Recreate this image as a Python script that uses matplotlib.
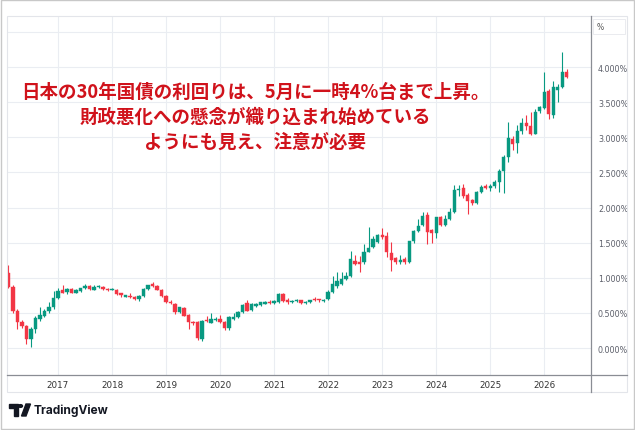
import numpy as np
import matplotlib
matplotlib.use('Agg')
import matplotlib.pyplot as plt
from matplotlib.lines import Line2D
from matplotlib.patches import Rectangle, Polygon, Circle

# monthly candles, Feb 2016 .. Jun 2026 (yield, %)
opens = [1.07, 0.87, 0.53, 0.37, 0.31, 0.13, 0.27, 0.42, 0.46, 0.52, 0.58, 0.71,
         0.82, 0.80, 0.84, 0.79, 0.81, 0.85, 0.88, 0.83, 0.87, 0.87, 0.84, 0.82,
         0.83, 0.78, 0.73, 0.74, 0.72, 0.70, 0.74, 0.84, 0.91, 0.88, 0.83, 0.74,
         0.66, 0.63, 0.51, 0.57, 0.47, 0.37, 0.37, 0.13, 0.40, 0.36, 0.40, 0.42,
         0.37, 0.28, 0.41, 0.44, 0.51, 0.64, 0.54, 0.60, 0.61, 0.63, 0.66, 0.64,
         0.65, 0.77, 0.69, 0.65, 0.67, 0.68, 0.64, 0.65, 0.69, 0.69, 0.67, 0.70,
         0.80, 0.88, 0.91, 0.98, 1.03, 1.24, 1.22, 1.22, 1.37, 1.44, 1.51, 1.61,
         1.59, 1.35, 1.28, 1.22, 1.27, 1.22, 1.52, 1.67, 1.75, 1.89, 1.68, 1.64,
         1.86, 1.75, 1.84, 1.94, 2.25, 2.28, 2.18, 2.10, 2.07, 2.22, 2.30, 2.28,
         2.30, 2.36, 2.52, 2.72, 2.98, 2.92, 3.09, 3.20, 3.16, 3.05, 3.37, 3.42,
         3.66, 3.32, 3.67, 3.72, 3.93]
highs = [1.18, 0.90, 0.56, 0.40, 0.33, 0.30, 0.46, 0.58, 0.55, 0.65, 0.81, 0.85,
         0.90, 0.86, 0.86, 0.84, 0.86, 0.91, 0.89, 0.89, 0.89, 0.88, 0.85, 0.86,
         0.84, 0.79, 0.76, 0.78, 0.74, 0.76, 0.85, 0.90, 0.94, 0.90, 0.84, 0.75,
         0.68, 0.64, 0.59, 0.58, 0.48, 0.38, 0.38, 0.40, 0.45, 0.50, 0.44, 0.47,
         0.38, 0.45, 0.50, 0.53, 0.63, 0.68, 0.64, 0.64, 0.66, 0.67, 0.68, 0.68,
         0.79, 0.78, 0.71, 0.69, 0.70, 0.69, 0.67, 0.69, 0.73, 0.70, 0.70, 0.82,
         1.03, 1.08, 1.08, 1.08, 1.38, 1.33, 1.31, 1.48, 1.72, 1.60, 1.62, 1.71,
         1.65, 1.51, 1.30, 1.33, 1.29, 1.53, 1.68, 1.84, 1.94, 1.94, 1.70, 1.86,
         1.88, 1.90, 2.00, 2.32, 2.32, 2.33, 2.20, 2.12, 2.24, 2.32, 2.34, 2.34,
         2.39, 2.55, 2.75, 3.22, 3.02, 3.18, 3.27, 3.32, 3.36, 3.40, 3.45, 3.93,
         3.68, 3.80, 3.76, 4.21, 3.97]
lows = [0.85, 0.50, 0.27, 0.28, 0.06, 0.02, 0.22, 0.38, 0.44, 0.50, 0.56, 0.70,
        0.78, 0.77, 0.78, 0.78, 0.80, 0.84, 0.83, 0.82, 0.86, 0.83, 0.81, 0.82,
        0.76, 0.73, 0.72, 0.71, 0.69, 0.67, 0.73, 0.83, 0.87, 0.82, 0.73, 0.64,
        0.62, 0.49, 0.50, 0.45, 0.27, 0.33, 0.12, 0.10, 0.37, 0.35, 0.38, 0.36,
        0.25, 0.25, 0.40, 0.43, 0.50, 0.52, 0.53, 0.59, 0.60, 0.62, 0.63, 0.63,
        0.64, 0.66, 0.63, 0.64, 0.66, 0.63, 0.63, 0.64, 0.67, 0.66, 0.66, 0.69,
        0.78, 0.86, 0.90, 0.97, 1.01, 1.18, 1.08, 1.20, 1.36, 1.42, 1.49, 1.55,
        1.30, 1.09, 1.20, 1.20, 1.20, 1.21, 1.50, 1.65, 1.73, 1.48, 1.49, 1.57,
        1.74, 1.73, 1.82, 1.92, 2.16, 2.14, 1.91, 2.03, 2.05, 2.20, 2.26, 2.23,
        2.28, 2.22, 2.20, 2.65, 2.82, 2.78, 3.05, 3.10, 3.03, 3.04, 3.35, 3.40,
        3.26, 3.28, 3.50, 3.70, 3.84]
closes = [0.87, 0.53, 0.37, 0.31, 0.13, 0.27, 0.43, 0.47, 0.53, 0.58, 0.71, 0.81,
          0.79, 0.84, 0.79, 0.82, 0.85, 0.88, 0.84, 0.87, 0.88, 0.84, 0.82, 0.83,
          0.77, 0.75, 0.75, 0.72, 0.70, 0.74, 0.84, 0.89, 0.88, 0.83, 0.74, 0.65,
          0.64, 0.51, 0.58, 0.46, 0.37, 0.35, 0.14, 0.38, 0.38, 0.41, 0.41, 0.37,
          0.28, 0.44, 0.44, 0.51, 0.61, 0.53, 0.63, 0.63, 0.65, 0.66, 0.64, 0.67,
          0.77, 0.67, 0.65, 0.67, 0.69, 0.64, 0.66, 0.68, 0.68, 0.68, 0.69, 0.80,
          0.91, 0.95, 0.98, 1.03, 1.27, 1.20, 1.20, 1.37, 1.43, 1.55, 1.61, 1.58,
          1.37, 1.25, 1.22, 1.26, 1.22, 1.52, 1.67, 1.74, 1.88, 1.65, 1.64, 1.86,
          1.75, 1.84, 1.94, 2.25, 2.27, 2.16, 2.09, 2.06, 2.22, 2.29, 2.28, 2.30,
          2.36, 2.52, 2.72, 2.99, 2.90, 3.09, 3.20, 3.16, 3.05, 3.36, 3.43, 3.64,
          3.33, 3.72, 3.72, 3.93, 3.86]

years = ['2017', '2018', '2019', '2020', '2021', '2022', '2023', '2024', '2025', '2026']
price_ticks = [0.0, 0.5, 1.0, 1.5, 2.0, 2.5, 3.0, 3.5, 4.0, 4.5]

title_lines = ['日本の30年国債の利回りは、5月に一時4%台まで上昇。',
               '財政悪化への懸念が織り込まれ始めている',
               'ようにも見え、注意が必要']

UP, DOWN = '#089981', '#f23645'
W, H = 635, 431


def fx(px):
    return px / W


def fy(py):
    return 1 - py / H


fig = plt.figure(figsize=(6.35, 4.31), dpi=100)
fig.patch.set_facecolor('white')

# chart axes: x 7..591 px, y 17..376 px
ax = fig.add_axes([fx(7), fy(376), fx(591) - fx(7), fy(17) - fy(376)])
n = len(closes)
x = np.arange(n)
o = np.array(opens)
c = np.array(closes)
colors = [UP if cc >= oo else DOWN for oo, cc in zip(o, c)]

ax.vlines(x, lows, highs, colors=colors, lw=0.8, zorder=2)
bottoms = np.minimum(o, c)
heights = np.maximum(np.abs(c - o), 0.015)
ax.bar(x, heights, bottom=bottoms, width=0.72, color=colors, edgecolor=colors,
       lw=0.3, zorder=3)

ax.set_xlim(-0.33, 129.4)
ax.set_ylim(-0.384, 4.726)

year_pos = [11 + 12 * k for k in range(len(years))]
ax.set_xticks(year_pos)
ax.set_xticklabels(years)
ax.set_yticks(price_ticks)
ax.set_yticklabels([f'{v:.3f}%' for v in price_ticks[:-1]] + [''])
ax.yaxis.tick_right()
ax.tick_params(axis='x', length=0, pad=3.5, labelsize=6.3, labelcolor='#333333')
ax.tick_params(axis='y', length=0, pad=5, labelsize=5.8, labelcolor='#5d606b')
ax.grid(True, color='#eaedf2', lw=0.8, zorder=0)
ax.set_axisbelow(True)
for s in ax.spines.values():
    s.set_visible(False)

# panel frame and axis lines
fig.add_artist(Rectangle((fx(7), fy(393)), fx(627) - fx(7), fy(17) - fy(393),
                         transform=fig.transFigure, fill=False,
                         edgecolor='#e3e5ea', lw=0.8))
fig.add_artist(Line2D([fx(7), fx(627)], [fy(376), fy(376)],
                      transform=fig.transFigure, color='#8a8d94', lw=0.9))
fig.add_artist(Line2D([fx(591), fx(591)], [fy(17), fy(393)],
                      transform=fig.transFigure, color='#8a8d94', lw=0.9))
fig.add_artist(Rectangle((fx(0.5), fy(429.5)), fx(633), fy(0.5) - fy(429.5),
                         transform=fig.transFigure, fill=False,
                         edgecolor='#c8c8c8', lw=1.0))

# unit box
fig.add_artist(Rectangle((fx(593), fy(35)), fx(32), fy(20) - fy(35),
                         transform=fig.transFigure, facecolor='white',
                         edgecolor='#e6e8ec', lw=0.6))
fig.text(fx(597), fy(28), '%', fontsize=5.5, color='#555555', ha='left', va='center')

# headline
for line, py in zip(title_lines, [92, 117, 142]):
    fig.text(fx(255), fy(py), line, ha='center', va='center', fontsize=13.3,
             color='#d0121b', fontweight='bold',
             family=['Noto Sans CJK JP', 'DejaVu Sans'])

# TradingView logo
k = '#131722'
fig.add_artist(Polygon([(fx(9), fy(405)), (fx(17.5), fy(405)), (fx(17.5), fy(417)),
                        (fx(14), fy(417)), (fx(14), fy(409)), (fx(9), fy(409))],
                       closed=True, transform=fig.transFigure, color=k))
fig.add_artist(Circle((fx(20.5), fy(407)), 2.0 / W, transform=fig.transFigure, color=k))
fig.add_artist(Polygon([(fx(26), fy(405)), (fx(30.5), fy(405)), (fx(26), fy(417)),
                        (fx(21.5), fy(417))],
                       closed=True, transform=fig.transFigure, color=k))
fig.text(fx(34), fy(411), 'TradingView', fontsize=8.6, color=k, ha='left',
         va='center', family='Inter', fontweight='bold')

fig.savefig('out.png', dpi=100)
